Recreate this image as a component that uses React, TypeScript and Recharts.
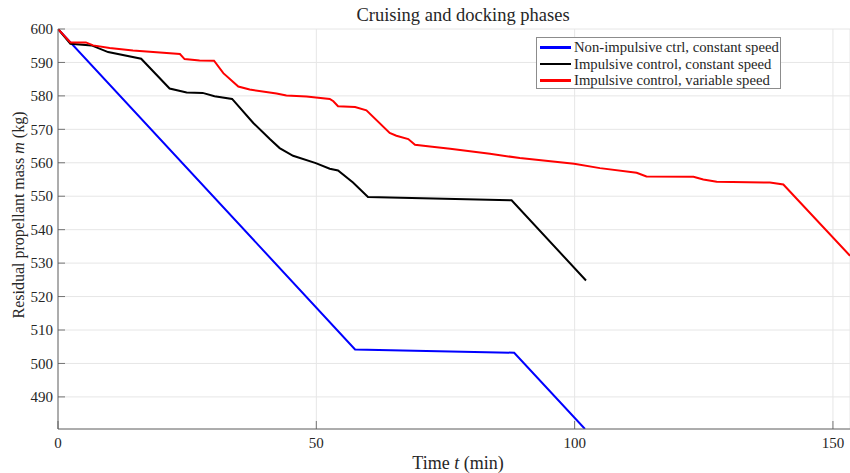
import { LineChart, Line, XAxis, YAxis, CartesianGrid, Label } from "recharts"

// time (min) / residual mass (kg)
const nonImpulsiveT = [0, 57.5, 88.3, 102.0]
const nonImpulsiveM = [600, 504.2, 503.2, 480.4]

const impConstT = [0, 2.4, 6.5, 9.7, 16.1, 21.6, 24.9, 28.0, 30.3, 33.7, 37.8, 41.0, 42.9, 45.5, 49.9, 52.6, 54.2, 57.1, 60.0, 87.8, 102.2]
const impConstM = [600, 595.6, 595.1, 593.1, 591.1, 582.2, 581.0, 580.9, 579.9, 579.1, 571.9, 567.1, 564.4, 562.1, 559.9, 558.2, 557.7, 554.1, 549.8, 548.8, 524.8]

const impVarT = [0, 2.4, 5.4, 6.8, 10.0, 14.5, 23.6, 24.5, 27.4, 30.2, 32.0, 34.9, 37.1, 42.3, 44.2, 48.1, 52.6, 53.3, 54.2, 57.5, 59.7, 64.2, 65.5, 67.8, 69.1, 72.0, 75.9, 83.6, 89.4, 99.9, 104.9, 112.0, 113.9, 123.0, 124.9, 127.5, 137.8, 140.4, 153.3]
const impVarM = [600, 596.0, 596.0, 595.1, 594.3, 593.6, 592.5, 591.0, 590.6, 590.5, 586.8, 582.8, 581.9, 580.7, 580.1, 579.8, 579.1, 578.4, 576.9, 576.7, 575.7, 568.9, 568.1, 567.1, 565.4, 564.9, 564.2, 562.7, 561.4, 559.7, 558.4, 557.0, 555.9, 555.8, 555.0, 554.3, 554.1, 553.5, 532.2]

const xTicks = [0, 50, 100, 150]
const yTicks = [490, 500, 510, 520, 530, 540, 550, 560, 570, 580, 590, 600]

const toPoints = (t: number[], m: number[]) => t.map((v, i) => ({ t: v, m: m[i] }))

const series = [
  { name: "Non-impulsive ctrl, constant speed", color: "#0000ff", data: toPoints(nonImpulsiveT, nonImpulsiveM) },
  { name: "Impulsive control, constant speed", color: "#000000", data: toPoints(impConstT, impConstM) },
  { name: "Impulsive control, variable speed", color: "#ff0000", data: toPoints(impVarT, impVarM) },
]

const FONT = "'Liberation Serif', 'DejaVu Serif', serif"
const TEXT = "#262626"

function YTick({ x, y, payload }: any) {
  const axisX = x + 5
  return (
    <g>
      <line x1={axisX} x2={axisX + 7} y1={y} y2={y} stroke="#555" strokeWidth={0.8} />
      <text x={x} y={y} dy="0.35em" textAnchor="end" fontFamily={FONT} fontSize={15} fill={TEXT}>
        {payload.value}
      </text>
    </g>
  )
}

function XTick({ x, y, payload }: any) {
  const axisY = y - 14
  return (
    <g>
      <line x1={x} x2={x} y1={axisY} y2={axisY - 8} stroke="#555" strokeWidth={0.8} />
      <text x={x} y={y} dy="0.35em" textAnchor="middle" fontFamily={FONT} fontSize={15} fill={TEXT}>
        {payload.value}
      </text>
    </g>
  )
}

export default function App() {
  return (
    <div style={{ position: "absolute", left: 0, top: 0, width: 850, height: 473, background: "#fff" }}>
      <LineChart width={850} height={473} margin={{ top: 29, right: 0, bottom: 0, left: 0 }}>
        <CartesianGrid stroke="#e6e6e6" strokeWidth={1} />
        <XAxis
          type="number"
          dataKey="t"
          domain={[0, 153.3]}
          ticks={xTicks}
          allowDataOverflow
          height={44}
          tickSize={0}
          tickMargin={14}
          tick={<XTick />}
          stroke="#666"
        >
          <Label
            content={() => (
              <text x={458} y={463} dy="0.35em" textAnchor="middle" fontFamily={FONT} fontSize={18} fill={TEXT}>
                Time <tspan fontStyle="italic">t</tspan> (min)
              </text>
            )}
          />
        </XAxis>
        <YAxis
          type="number"
          domain={[480.4, 600]}
          ticks={yTicks}
          allowDataOverflow
          width={58}
          tickSize={0}
          tickMargin={5}
          tick={<YTick />}
          stroke="#666"
        >
          <Label
            content={() => (
              <text
                x={18}
                y={215}
                dy="0.35em"
                transform="rotate(-90, 18, 215)"
                textAnchor="middle"
                fontFamily={FONT}
                fontSize={16}
                fill={TEXT}
              >
                Residual propellant mass <tspan fontStyle="italic">m</tspan> (kg)
              </text>
            )}
          />
        </YAxis>
        {series.map((s) => (
          <Line
            key={s.name}
            data={s.data}
            dataKey="m"
            name={s.name}
            type="linear"
            stroke={s.color}
            strokeWidth={2}
            dot={false}
            activeDot={false}
            isAnimationActive={false}
          />
        ))}
      </LineChart>
      <div
        style={{
          position: "absolute",
          left: 0,
          width: 926,
          top: 5,
          textAlign: "center",
          fontFamily: FONT,
          fontSize: 18.5,
          color: TEXT,
        }}
      >
        Cruising and docking phases
      </div>
      <div
        style={{
          position: "absolute",
          left: 536,
          top: 37,
          width: 245,
          height: 52,
          border: "1px solid #8c8c8c",
          background: "#fff",
          padding: "1px 0 0 3px",
          boxSizing: "border-box",
        }}
      >
        {series.map((s) => (
          <div key={s.name} style={{ display: "flex", alignItems: "center", height: 16.7 }}>
            <div style={{ width: 31, height: 2.5, background: s.color, marginRight: 3 }} />
            <span style={{ fontFamily: FONT, fontSize: 14.7, color: TEXT, whiteSpace: "nowrap" }}>{s.name}</span>
          </div>
        ))}
      </div>
    </div>
  )
}
